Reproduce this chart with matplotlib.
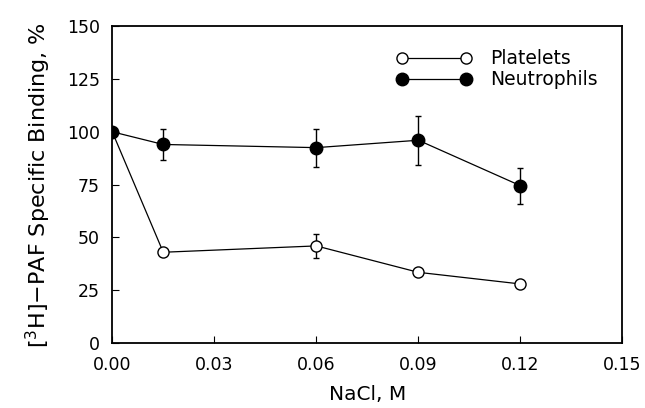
import matplotlib.pyplot as plt

# NaCl concentration, M
nacl = [0.0, 0.015, 0.06, 0.09, 0.12]

platelets = [100, 43, 46, 33.5, 28]
platelets_err = [0, 0, 5.5, 0, 0]

neutrophils = [100, 94, 92.5, 96, 74.5]
neutrophils_err = [0, 7.5, 9, 11.5, 8.5]

xticks = [0.00, 0.03, 0.06, 0.09, 0.12, 0.15]
yticks = [0, 25, 50, 75, 100, 125, 150]

plt.rcParams['font.family'] = ['DejaVu Sans']

fig = plt.figure(figsize=(6.45, 4.08), dpi=100)
ax = fig.add_axes([0.174, 0.159, 0.791, 0.777])

ax.errorbar(nacl, platelets, yerr=platelets_err, fmt='-o', color='black',
            mfc='white', mec='black', ms=8, mew=1, lw=0.9,
            capsize=2, elinewidth=1, label='Platelets', zorder=2)
ax.errorbar(nacl, neutrophils, yerr=neutrophils_err, fmt='-o', color='black',
            mfc='black', mec='black', ms=9, lw=0.9,
            capsize=2, elinewidth=1, label='Neutrophils', zorder=3)

ax.set_xlim(0, 0.15)
ax.set_ylim(0, 150)
ax.set_xticks(xticks)
ax.set_xticklabels([f"{t:.2f}" for t in xticks])
ax.set_yticks(yticks)
ax.tick_params(direction='in', length=5, labelsize=12.5, pad=9)
for s in ax.spines.values():
    s.set_linewidth(1.3)

ax.set_xlabel('NaCl, M', fontsize=14.5, labelpad=8)
ax.set_ylabel('[$^{3}$H]$-$PAF Specific Binding, %', fontsize=16, labelpad=10)

handles, labels = ax.get_legend_handles_labels()
handles = [h[0] for h in handles]
ax.legend(handles, labels, loc='upper right', bbox_to_anchor=(0.985, 0.98),
          frameon=False, numpoints=2, handlelength=4, fontsize=13.5,
          handletextpad=1.0, labelspacing=0.1)

fig.savefig('out.png', dpi=100)
